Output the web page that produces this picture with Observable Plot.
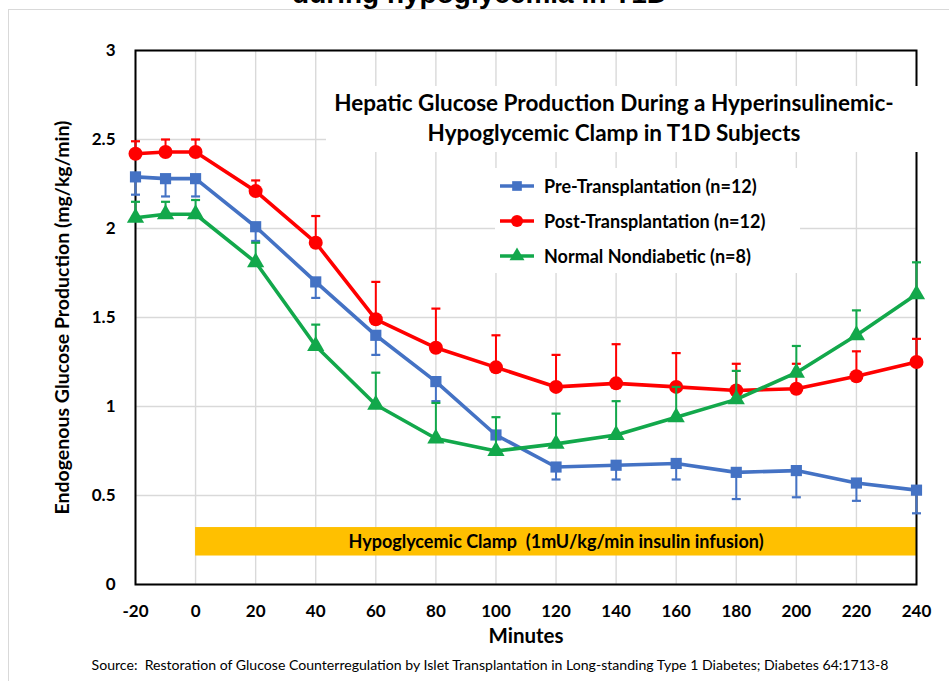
<!DOCTYPE html>
<html>
<head>
<meta charset="utf-8">
<script src="https://cdn.jsdelivr.net/npm/d3@7"></script>
<script src="https://cdn.jsdelivr.net/npm/@observablehq/plot@0.6"></script>
<style>
  html, body { margin: 0; padding: 0; background: #fff; }
  #wrap { position: relative; width: 949px; height: 681px; overflow: hidden; font-family: Lato, "Open Sans", sans-serif; }
  #outer { position: absolute; left: 8px; top: 9px; width: 960px; height: 700px; border: 1px solid #d9d9d9; box-sizing: border-box; }
  #chart { position: absolute; left: 0; top: 0; }
  #toptitle { position: absolute; left: 0; width: 949px; top: -20px; text-align: center; font-family: "Liberation Sans", Arial, sans-serif; font-weight: bold; font-size: 28px; line-height: 28px; color: #000; white-space: nowrap; }
  #toptitle span { position: relative; left: 5px; }
  #inner-title { position: absolute; left: 326px; top: 86px; width: 594px; height: 66px; background: #fff; text-align: center; font-weight: bold; font-size: 22.5px; line-height: 30px; color: #000; padding-top: 2px; padding-right: 18px; box-sizing: border-box; white-space: nowrap; }
  #legend { position: absolute; left: 495px; top: 168px; width: 305px; height: 105px; background: #fff; }
  .lrow { position: absolute; left: 5px; height: 24px; display: flex; align-items: center; font-weight: bold; font-size: 18px; color: #000; white-space: nowrap; }
  .lrow svg { margin-right: 10px; }
  #source { position: absolute; left: 0; width: 980px; top: 656px; text-align: center; font-size: 14.1px; color: #000; white-space: nowrap; }
  g[aria-label="y-axis label"] text { font-size: 19.5px; }
  g[aria-label="x-axis label"] text { font-size: 20.5px; }
</style>
</head>
<body>
<div id="wrap">
  <div id="outer"></div>
  <div id="toptitle"><span>during hypoglycemia in T1D</span></div>
  <div id="chart"></div>
  <div id="inner-title">Hepatic Glucose Production During a Hyperinsulinemic-<br>Hypoglycemic Clamp in T1D Subjects</div>
  <div id="legend"></div>
  <div id="source">Source:&nbsp; Restoration of Glucose Counterregulation by Islet Transplantation in Long-standing Type 1 Diabetes; Diabetes 64:1713-8</div>
</div>
<script>
// ---- data ----
const minutes = [-20, -10, 0, 20, 40, 60, 80, 100, 120, 140, 160, 180, 200, 220, 240];

const preMean   = [2.29, 2.28, 2.28, 2.01, 1.70, 1.40, 1.14, 0.84, 0.66, 0.67, 0.68, 0.63, 0.64, 0.57, 0.53];
const preLow    = [2.19, 2.18, 2.18, 1.93, 1.61, 1.29, 1.03, 0.76, 0.59, 0.59, 0.59, 0.48, 0.49, 0.47, 0.40];

const postMean  = [2.42, 2.43, 2.43, 2.21, 1.92, 1.49, 1.33, 1.22, 1.11, 1.13, 1.11, 1.09, 1.10, 1.17, 1.25];
const postHigh  = [2.49, 2.50, 2.50, 2.27, 2.07, 1.70, 1.55, 1.40, 1.29, 1.35, 1.30, 1.24, 1.24, 1.31, 1.38];

const normalMean = [2.06, 2.08, 2.08, 1.81, 1.34, 1.01, 0.82, 0.75, 0.79, 0.84, 0.94, 1.04, 1.19, 1.40, 1.63];
const normalHigh = [2.15, 2.15, 2.16, 1.92, 1.46, 1.19, 1.02, 0.94, 0.96, 1.03, 1.11, 1.20, 1.34, 1.54, 1.81];

const seriesNames   = ["Pre-Transplantation (n=12)", "Post-Transplantation (n=12)", "Normal Nondiabetic (n=8)"];
const seriesColors  = ["#4472C4", "#FF0000", "#12A84B"];
const seriesSymbols = ["square", "circle", "triangle"];
const seriesRadius  = [6.3, 7, 6.4];

const xTicks = [-20, 0, 20, 40, 60, 80, 100, 120, 140, 160, 180, 200, 220, 240];
const yTicks = [0, 0.5, 1, 1.5, 2, 2.5, 3];

const clampMinutes = [0, 240];
const clampBand = [0.16, 0.32];
const clampLabel = "Hypoglycemic Clamp \u00a0(1mU/kg/min insulin infusion)";

// ---- build tables ----
const seriesMeans = [preMean, postMean, normalMean];
const seriesErrs  = [preLow, postHigh, normalHigh];
const tables = seriesNames.map((name, s) =>
  minutes.map((m, i) => ({ name, minute: m, value: seriesMeans[s][i], err: seriesErrs[s][i] }))
);

const capSymbol = {
  draw(context) {
    context.moveTo(-4.5, 0);
    context.lineTo(4.5, 0);
  }
};

const seriesMarks = tables.flatMap((data, s) => [
  Plot.ruleX(data, { x: "minute", y1: "value", y2: "err", stroke: seriesColors[s], strokeWidth: 2 }),
  Plot.dot(data, { x: "minute", y: "err", symbol: capSymbol, stroke: seriesColors[s], strokeWidth: 2.2, fill: "none" }),
  Plot.line(data, { x: "minute", y: "value", stroke: seriesColors[s], strokeWidth: 3.6, curve: "linear" }),
  Plot.dot(data, { x: "minute", y: "value", symbol: seriesSymbols[s], r: seriesRadius[s], fill: seriesColors[s], stroke: "none" })
]);

const clampData = [{ x1: clampMinutes[0], x2: clampMinutes[1], y1: clampBand[0], y2: clampBand[1], label: clampLabel }];

const chart = Plot.plot({
  width: 949,
  height: 681,
  marginLeft: 135,
  marginRight: 33,
  marginTop: 50,
  marginBottom: 97,
  x: { domain: [-20, 240] },
  y: { domain: [0, 3] },
  style: { fontFamily: "Lato, 'Open Sans', sans-serif", fontSize: "17px", fontWeight: "bold", color: "#000", background: "transparent", overflow: "visible" },
  marks: [
    Plot.gridX(xTicks, { stroke: "#d9d9d9", strokeOpacity: 1, strokeWidth: 1.4 }),
    Plot.gridY(yTicks, { stroke: "#d9d9d9", strokeOpacity: 1, strokeWidth: 1.4 }),
    Plot.rect(clampData, { x1: "x1", x2: "x2", y1: "y1", y2: "y2", fill: "#FFC000" }),
    Plot.text(clampData, { x: d => (d.x1 + d.x2) / 2, y: d => (d.y1 + d.y2) / 2, text: "label", fontSize: 18, fontWeight: "bold", fill: "#000" }),
    Plot.axisX(xTicks, { tickSize: 0, tickPadding: 20, tickFormat: d => String(d), label: "Minutes", labelAnchor: "center", labelArrow: "none", labelOffset: 58 }),
    Plot.axisY(yTicks, { tickSize: 0, tickPadding: 20, tickFormat: d => String(d), label: "Endogenous Glucose Production (mg/kg/min)", labelAnchor: "center", labelArrow: "none", labelOffset: 80 }),
    Plot.frame({ stroke: "#000", strokeWidth: 2 }),
    ...seriesMarks
  ]
});
document.getElementById("chart").appendChild(chart);

// ---- legend ----
const legend = document.getElementById("legend");
const rowTops = [6, 41, 76];
seriesNames.forEach((name, s) => {
  const row = document.createElement("div");
  row.className = "lrow";
  row.style.top = rowTops[s] + "px";
  const sym = d3.symbol().type(s === 0 ? d3.symbolSquare : s === 1 ? d3.symbolCircle : d3.symbolTriangle)
    .size(Math.PI * seriesRadius[s] * seriesRadius[s] * 0.75)();
  row.innerHTML = `<svg width="34" height="18" viewBox="0 0 34 18">
      <line x1="0" x2="34" y1="9" y2="9" stroke="${seriesColors[s]}" stroke-width="3.6"/>
      <path d="${sym}" transform="translate(17,9)" fill="${seriesColors[s]}"/>
    </svg><span>${name}</span>`;
  legend.appendChild(row);
});
</script>
</body>
</html>
